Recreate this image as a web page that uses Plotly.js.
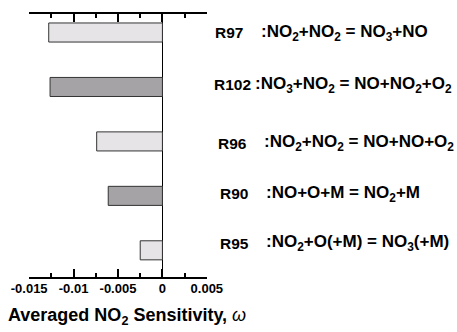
<!DOCTYPE html>
<html>
<head>
<meta charset="utf-8">
<script src="https://cdn.plot.ly/plotly-3.0.1.min.js"></script>
<style>html,body{margin:0;padding:0;background:#fff;}#chart{width:457px;height:332px;}</style>
</head>
<body>
<div id="chart"></div>
<script>
// Data
var reactions = ['R97', 'R102', 'R96', 'R90', 'R95'];
var equations = [
  ':NO<sub>2</sub>+NO<sub>2</sub> = NO<sub>3</sub>+NO',
  ':NO<sub>3</sub>+NO<sub>2</sub> = NO+NO<sub>2</sub>+O<sub>2</sub>',
  ':NO<sub>2</sub>+NO<sub>2</sub> = NO+NO+O<sub>2</sub>',
  ':NO+O+M = NO<sub>2</sub>+M',
  ':NO<sub>2</sub>+O(+M) = NO<sub>3</sub>(+M)'
];
var sensitivity = [-0.0128, -0.01265, -0.0074, -0.0061, -0.0025];
var tickValues = [-0.015, -0.01, -0.005, 0, 0.005];
var tickLabels = ['-0.015', '-0.01', '-0.005', '0', '0.005'];

// Styles
var lightGray = '#e7e4e8', darkGray = '#a5a3a6';
var barColors = reactions.map(function (r, i) { return i % 2 === 0 ? lightGray : darkGray; });
var rFont = {family: 'Liberation Sans, Arial, sans-serif', size: 15.5, color: '#000', weight: 'bold'};
var eqFont = {family: 'Liberation Sans, Arial, sans-serif', size: 17, color: '#000', weight: 'bold'};
var rShift = [6, 5, 9, 11, 11];
var eqShift = [52, 46, 55, 57, 57];
var yShift = [0, 2, -2, 2, 7];

var annotations = [];
reactions.forEach(function (r, i) {
  annotations.push({xref: 'paper', yref: 'y', x: 1, y: i, xanchor: 'left', yanchor: 'middle',
    xshift: rShift[i], yshift: yShift[i], text: r, showarrow: false, font: rFont});
  annotations.push({xref: 'paper', yref: 'y', x: 1, y: i, xanchor: 'left', yanchor: 'middle',
    xshift: eqShift[i], yshift: yShift[i], text: equations[i], showarrow: false, font: eqFont});
});
annotations.push({xref: 'paper', yref: 'paper', x: 0, y: 0, xanchor: 'left', yanchor: 'middle',
  xshift: -23, yshift: -39, showarrow: false,
  text: 'Averaged NO<sub>2</sub> Sensitivity, <i style="font-weight:normal">ω</i>',
  font: {family: 'Liberation Sans, Arial, sans-serif', size: 18, color: '#000', weight: 'bold'}});

var trace = {
  type: 'bar', orientation: 'h',
  x: sensitivity, y: reactions.map(function (r, i) { return i; }),
  width: 0.35,
  marker: {color: barColors, line: {color: '#333', width: 1}},
  hoverinfo: 'none'
};

var layout = {
  width: 457, height: 332,
  margin: {l: 29, r: 250, t: 14, b: 55, pad: 0},
  paper_bgcolor: '#fff', plot_bgcolor: '#fff',
  showlegend: false,
  xaxis: {
    range: [-0.01502, 0.00502],
    tickvals: tickValues, ticktext: tickLabels,
    ticks: 'inside', ticklen: 8, tickwidth: 2, tickcolor: '#000',
    showline: true, linecolor: '#000', linewidth: 2, mirror: 'ticks',
    showgrid: false, zeroline: true, zerolinecolor: '#000', zerolinewidth: 1.5,
    tickfont: {family: 'Liberation Sans, Arial, sans-serif', size: 13, color: '#000', weight: 'bold'},
    ticklabelstandoff: -2,
    minor: {dtick: 0.0025, tick0: 0, ticks: 'inside', ticklen: 4, tickwidth: 2, tickcolor: '#000', showgrid: false}
  },
  yaxis: {
    range: [4.49, -0.34],
    showticklabels: false, ticks: '', showgrid: false, zeroline: false, showline: false
  },
  annotations: annotations
};

Plotly.newPlot('chart', [trace], layout, {staticPlot: true, displayModeBar: false});
</script>
</body>
</html>
